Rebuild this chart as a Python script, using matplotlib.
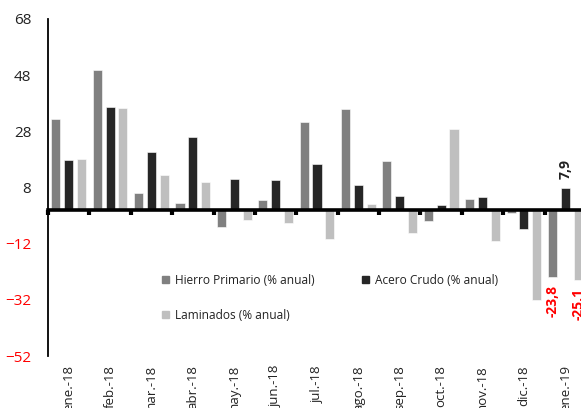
import numpy as np
import matplotlib
matplotlib.use("Agg")
import matplotlib.pyplot as plt
from matplotlib.patches import Patch

plt.rcParams['font.family'] = ['Open Sans', 'DejaVu Sans']

meses = ['ene.-18', 'feb.-18', 'mar.-18', 'abr.-18', 'may.-18', 'jun.-18', 'jul.-18',
         'ago.-18', 'sep.-18', 'oct.-18', 'nov.-18', 'dic.-18', 'ene.-19']
hierro = [32.3, 50.0, 5.9, 2.6, -5.9, 3.6, 31.3, 35.9, 17.5, -4.0, 4.0, -1.2, -23.8]
acero = [17.8, 36.5, 20.7, 25.9, 11.1, 10.7, 16.2, 8.8, 4.9, 1.8, 4.5, -6.6, 7.9]
laminados = [18.1, 36.2, 12.3, 10.0, -3.5, -4.7, -10.5, 2.0, -8.3, 28.7, -11.2, -32.1, -25.1]
yticks = [68, 48, 28, 8, -12, -32, -52]

c_hierro = '#808080'
c_acero = '#262626'
c_lam = '#bfbfbf'

fig = plt.figure(figsize=(5.81, 4.08), dpi=100)
ax = fig.add_axes([48 / 581, 52 / 408, 538 / 581, 337 / 408])

x = np.arange(len(meses))
w = 0.22
d = 0.31
ax.bar(x - d, hierro, w, color=c_hierro, edgecolor='white', linewidth=0.4)
ax.bar(x, acero, w, color=c_acero, edgecolor='white', linewidth=0.4)
ax.bar(x + d, laminados, w, color=c_lam, edgecolor='white', linewidth=0.4)

ax.set_xlim(-0.5, len(meses) - 0.5)
ax.set_ylim(-52, 68)

# eje y
ax.set_yticks(yticks)
ax.tick_params(axis='y', length=0, pad=12, labelsize=11)
for lab, v in zip(ax.get_yticklabels(), yticks):
    lab.set_color('red' if v < 0 else '#222222')

# eje x en cero con marcas entre meses
for s in ['top', 'right']:
    ax.spines[s].set_visible(False)
ax.spines['left'].set_linewidth(1.3)
ax.spines['bottom'].set_position(('data', 0))
ax.spines['bottom'].set_linewidth(2.6)
ax.set_xticks(np.arange(len(meses)) - 0.5)
ax.set_xticklabels([])
ax.tick_params(axis='x', length=3.5, width=3, direction='out', color='black')

for i, m in enumerate(meses):
    ax.text(i, -0.027, m, transform=ax.get_xaxis_transform(), rotation=90,
            ha='center', va='top', fontsize=9.5, color='#222222')

# etiquetas de valor del último mes
n = len(meses) - 1
ax.text(n, acero[n] + 3.2, '7,9', rotation=90, ha='center', va='bottom',
        fontsize=10, fontweight='bold', color='#222222')
ax.text(n - d, hierro[n] - 2.8, '-23,8', rotation=90, ha='center', va='top',
        fontsize=10, fontweight='bold', color='red')
ax.text(n + d, laminados[n] - 2.8, '-25,1', rotation=90, ha='center', va='top',
        fontsize=10, fontweight='bold', color='red')

handles = [Patch(color=c_hierro), Patch(color=c_lam), Patch(color=c_acero)]
labels = ['Hierro Primario (% anual)', 'Laminados (% anual)', 'Acero Crudo (% anual)']
ax.legend(handles, labels, ncol=2, loc='upper left', bbox_to_anchor=(0.192, 0.275),
          frameon=False, fontsize=8.6, handlelength=0.55, handleheight=0.55,
          handletextpad=0.5, labelspacing=1.8, columnspacing=4.0, labelcolor='#222222')

fig.savefig('out.png', dpi=100)
